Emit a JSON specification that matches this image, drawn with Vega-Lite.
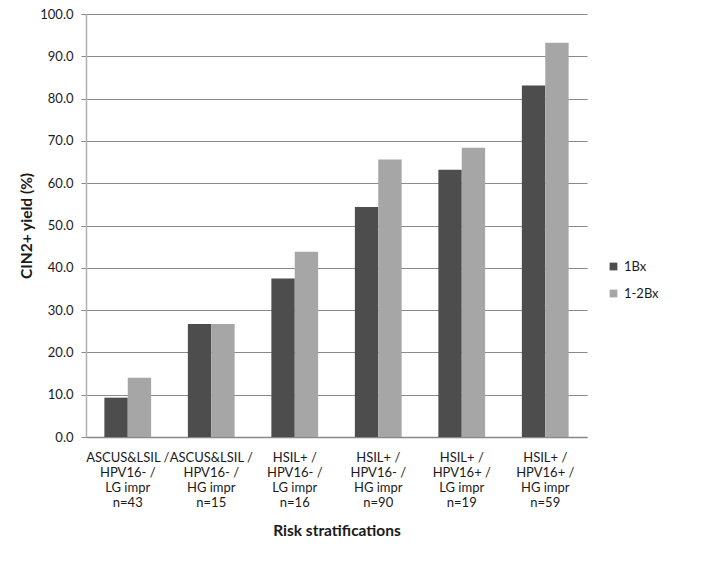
{
  "$schema": "https://vega.github.io/schema/vega-lite/v6.json",
  "width": 501,
  "height": 423,
  "autosize": {"type": "none"},
  "padding": {"left": 86, "top": 14, "right": 118, "bottom": 128},
  "background": "white",
  "config": {"view": {"stroke": null}, "font": "Lato"},
  "data": {
    "values": [
      {"group": "ASCUS&LSIL /|HPV16- /|LG impr|n=43", "series": "1Bx", "yield": 9.3},
      {"group": "ASCUS&LSIL /|HPV16- /|LG impr|n=43", "series": "1-2Bx", "yield": 14.0},
      {"group": "ASCUS&LSIL /|HPV16- /|HG impr|n=15", "series": "1Bx", "yield": 26.7},
      {"group": "ASCUS&LSIL /|HPV16- /|HG impr|n=15", "series": "1-2Bx", "yield": 26.7},
      {"group": "HSIL+ /|HPV16- /|LG impr|n=16", "series": "1Bx", "yield": 37.5},
      {"group": "HSIL+ /|HPV16- /|LG impr|n=16", "series": "1-2Bx", "yield": 43.8},
      {"group": "HSIL+ /|HPV16- /|HG impr|n=90", "series": "1Bx", "yield": 54.4},
      {"group": "HSIL+ /|HPV16- /|HG impr|n=90", "series": "1-2Bx", "yield": 65.6},
      {"group": "HSIL+ /|HPV16+ /|LG impr|n=19", "series": "1Bx", "yield": 63.2},
      {"group": "HSIL+ /|HPV16+ /|LG impr|n=19", "series": "1-2Bx", "yield": 68.4},
      {"group": "HSIL+ /|HPV16+ /|HG impr|n=59", "series": "1Bx", "yield": 83.1},
      {"group": "HSIL+ /|HPV16+ /|HG impr|n=59", "series": "1-2Bx", "yield": 93.2}
    ]
  },
  "mark": {"type": "bar"},
  "encoding": {
    "x": {
      "field": "group",
      "type": "nominal",
      "sort": null,
      "scale": {"paddingInner": 0.44, "paddingOuter": 0.22},
      "axis": {
        "title": "Risk stratifications",
        "titleFont": "Lato",
        "titleFontSize": 15.5,
        "titleFontWeight": "bold",
        "titleColor": "#1a1a1a",
        "titlePadding": 14,
        "labelExpr": "split(datum.label, '|')",
        "labelAngle": 0,
        "labelFont": "Lato",
        "labelFontSize": 13,
        "labelColor": "#1a1a1a",
        "labelLineHeight": 15,
        "labelPadding": 14,
        "labelBaseline": "top",
        "ticks": false,
        "domainColor": "#888888",
        "domainWidth": 1.5
      }
    },
    "xOffset": {"field": "series", "type": "nominal", "sort": ["1Bx", "1-2Bx"]},
    "y": {
      "field": "yield",
      "type": "quantitative",
      "scale": {"domain": [0, 100], "nice": false},
      "axis": {
        "title": "CIN2+ yield (%)",
        "titleFont": "Lato",
        "titleFontSize": 15.5,
        "titleFontWeight": "bold",
        "titleColor": "#1a1a1a",
        "titlePadding": 5,
        "values": [0, 10, 20, 30, 40, 50, 60, 70, 80, 90, 100],
        "format": ".1f",
        "labelFont": "Lato",
        "labelFontSize": 13,
        "labelColor": "#1a1a1a",
        "labelPadding": 8,
        "tickSize": 5,
        "tickColor": "#8a8a8a",
        "domainColor": "#b0b0b0",
        "domainWidth": 1.5,
        "grid": true,
        "gridColor": "#8a8a8a",
        "gridWidth": 1.2
      }
    },
    "color": {
      "field": "series",
      "type": "nominal",
      "scale": {"domain": ["1Bx", "1-2Bx"], "range": ["#4d4d4d", "#a6a6a6"]},
      "legend": {
        "title": null,
        "orient": "none",
        "legendX": 521,
        "legendY": 246,
        "symbolType": "square",
        "symbolSize": 60,
        "symbolStrokeWidth": 0,
        "labelFont": "Lato",
        "labelFontSize": 13,
        "labelColor": "#1a1a1a",
        "rowPadding": 13
      }
    }
  }
}
